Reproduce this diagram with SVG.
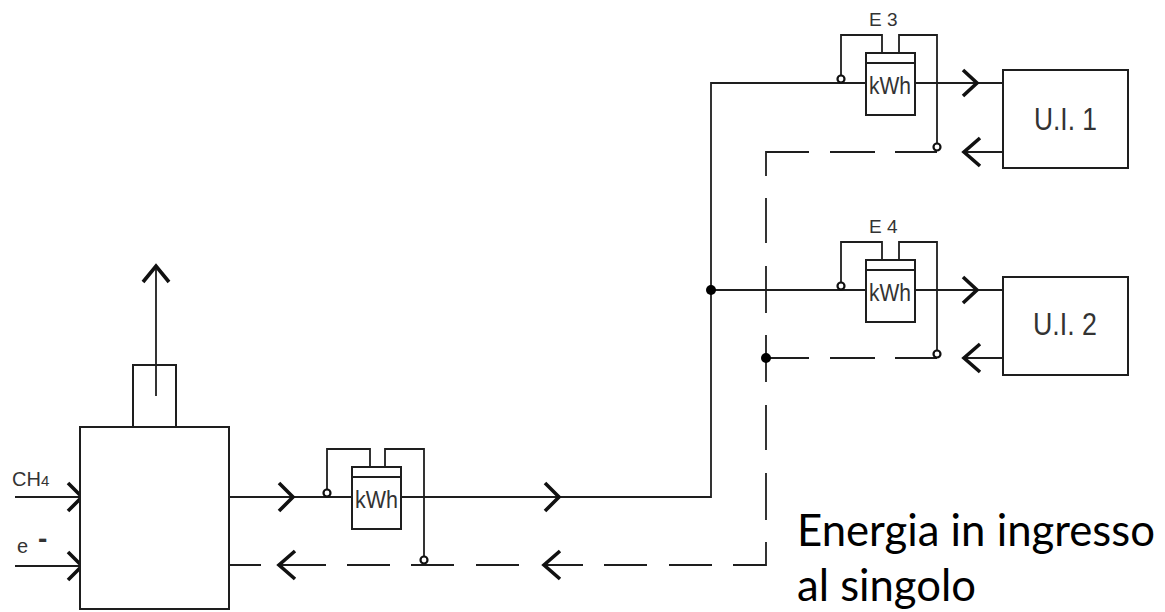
<svg xmlns="http://www.w3.org/2000/svg" width="1165" height="612" viewBox="0 0 1165 612">
<style>
.ln{fill:none;stroke:#1e1e1e;stroke-width:1.8}
.bx{fill:#fff;stroke:#1e1e1e;stroke-width:2}
.ch{fill:none;stroke:#111;stroke-width:3.6;stroke-linejoin:miter;stroke-linecap:butt}
.oc{fill:#fff;stroke:#111;stroke-width:2.2}
.dot{fill:#000}
.t{font-family:"Liberation Sans",Arial,sans-serif;fill:#333}
.big{font-family:Lato,"Open Sans",sans-serif;fill:#000;font-size:45px}
</style>
<rect width="1165" height="612" fill="#fff"/>

<g id="connectors">
  <path class="ln" d="M229,497H352M401,497H711V83H866M915,83H1003M711,290H866M915,290H1003"/>
  <path class="ln" d="M15,497H80M15,566H80M156,396V266"/>
  <path class="ln" d="M964,152H1003M964,358H1003"/>
  <path class="ln" d="M766,176V152H809M830,152H875M895,152H937"/>
  <path class="ln" d="M766,358H809M830,358H875M895,358H937"/>
  <path class="ln" d="M766,198V243M766,266V313M766,335V382M766,405V450M766,473V520M766,542V565H733M712,565H669M647,565H604M583,565H544M519,565H476M454,565H411M390,565H347M326,565H279M261,565H229"/>
  <path class="ch" d="M68,483L82,497L68,511M68,552L82,566L68,580M279,483L293,497L279,511M545,483L559,497L545,511M963,70L977,83L963,96M963,277L977,290L963,303"/>
  <path class="ch" d="M295,551L279,565L295,579M560,551L544,565L560,579M980,138L964,152L980,166M980,344L964,358L980,372"/>
  <path class="ch" d="M143,282L156,266L169,282"/>
  <circle class="dot" cx="711" cy="290" r="5"/>
  <circle class="dot" cx="766" cy="358" r="5"/>
</g>

<g id="boiler">
  <rect class="bx" x="80" y="427" width="149" height="182"/>
  <text class="t" x="12" y="486" font-size="20">CH<tspan font-size="15">4</tspan></text>
  <text class="t" x="17" y="553" font-size="20">e <tspan x="38" y="548" font-size="28" font-weight="bold">-</tspan></text>
</g>

<g id="chimney">
  <rect class="bx" x="133" y="365" width="43" height="62" fill="none"/>
  <path class="ln" d="M156,365V396"/>
</g>

<g id="meter-main" transform="translate(352,467)">
  <path class="ln" d="M-25,22.5V-18H18V0M33,0V-18H72V89.5"/>
  <rect class="bx" x="0" y="0" width="49" height="62"/>
  <path class="ln" d="M0,10H49"/>
  <text class="t" x="3" y="41" font-size="23" textLength="43" lengthAdjust="spacingAndGlyphs">kWh</text>
  <circle class="oc" cx="-25" cy="26" r="3.5"/>
  <circle class="oc" cx="72" cy="93" r="3.5"/>
</g>

<g id="meter-E3" transform="translate(866,53)">
  <path class="ln" d="M-25,22.5V-18H16V0M33,0V-18H71V90.5"/>
  <rect class="bx" x="0" y="0" width="49" height="62"/>
  <path class="ln" d="M0,10H49"/>
  <text class="t" x="3" y="41" font-size="23" textLength="42" lengthAdjust="spacingAndGlyphs">kWh</text>
  <circle class="oc" cx="-25" cy="26" r="3.5"/>
  <circle class="oc" cx="71" cy="94" r="3.5"/>
  <text class="t" x="3" y="-27" font-size="19">E 3</text>
</g>

<g id="meter-E4" transform="translate(866,260)">
  <path class="ln" d="M-25,22.5V-18H16V0M33,0V-18H71V90.5"/>
  <rect class="bx" x="0" y="0" width="49" height="62"/>
  <path class="ln" d="M0,10H49"/>
  <text class="t" x="3" y="41" font-size="23" textLength="42" lengthAdjust="spacingAndGlyphs">kWh</text>
  <circle class="oc" cx="-25" cy="26" r="3.5"/>
  <circle class="oc" cx="71" cy="94" r="3.5"/>
  <text class="t" x="3" y="-27" font-size="19">E 4</text>
</g>

<g id="ui1">
  <rect class="bx" x="1003" y="70" width="125" height="98"/>
  <text class="t" x="1034" y="130" font-size="31" textLength="63" lengthAdjust="spacingAndGlyphs">U.I. 1</text>
</g>

<g id="ui2">
  <rect class="bx" x="1003" y="277" width="125" height="98"/>
  <text class="t" x="1033" y="335" font-size="31" textLength="64" lengthAdjust="spacingAndGlyphs">U.I. 2</text>
</g>

<g id="caption">
  <text class="big" x="797" y="546" textLength="358" lengthAdjust="spacingAndGlyphs">Energia in ingresso</text>
  <text class="big" x="797" y="601" textLength="179" lengthAdjust="spacingAndGlyphs">al singolo</text>
</g>
</svg>
